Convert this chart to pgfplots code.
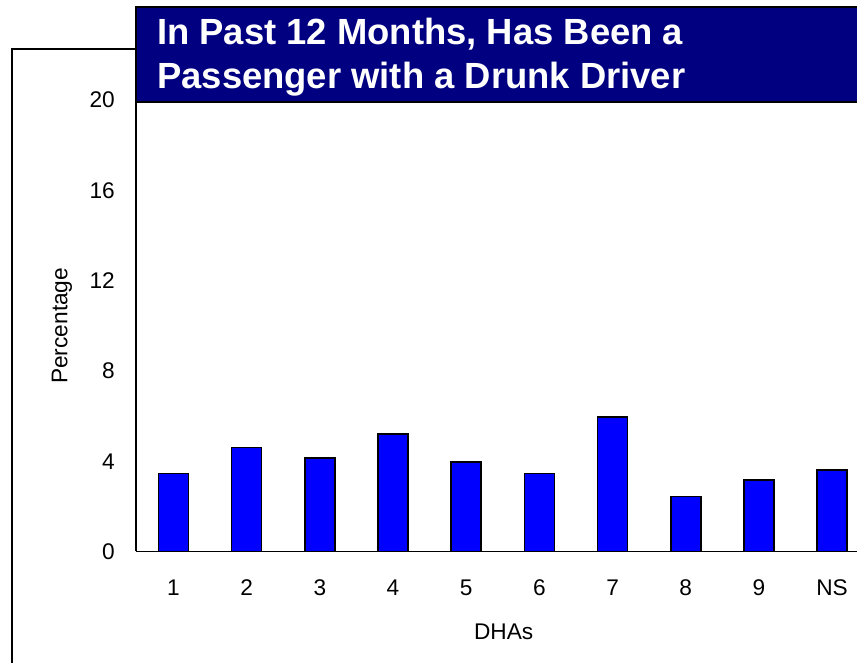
\documentclass[border=0pt]{standalone}
\usepackage{pgfplots}
\pgfplotsset{compat=1.18}
\usepackage{fontspec}
\setmainfont{Liberation Sans}
\definecolor{navytitle}{RGB}{0,0,128}
\definecolor{barblue}{RGB}{0,0,255}
\begin{document}
\begin{tikzpicture}[x=0.75pt,y=0.75pt]
\useasboundingbox (0,0) rectangle (857,663);
\fill[white] (0,0) rectangle (857,663);
\begin{scope}
\clip (0,0) rectangle (857,663);
\draw[line width=1pt] (12,-40) -- (12,614) -- (900,614);
\end{scope}
\begin{axis}[
  at={(102pt,83.625pt)}, anchor=south west,
  scale only axis, width=540.75pt, height=338.6pt,
  xmin=-0.512, xmax=9.34, ymin=0, ymax=20,
  axis lines=left, axis line style={-, line width=1pt},
  clip=false,
  ybar, bar width=0.41,
  ytick={0,4,8,12,16,20},
  xtick={0,1,2,3,4,5,6,7,8,9},
  xticklabels={1,2,3,4,5,6,7,8,9,NS},
  major tick length=0pt,
  /pgf/number format/assume math mode=true,
  tick label style={font=\fontsize{17}{20}\selectfont},
  yticklabel style={inner sep=0pt, anchor=east, xshift=-15.7pt},
  xticklabel style={inner sep=0pt, anchor=center, yshift=-27.4pt},
  ylabel={Percentage},
  ylabel style={at={(axis description cs:-0.1026,0.5)}, anchor=center, font=\fontsize{17}{20}\selectfont},
  xlabel={DHAs},
  xlabel style={at={(axis description cs:0.510,-0.178)}, anchor=center, font=\fontsize{17}{20}\selectfont},
]
\addplot[fill=barblue, draw=black, line width=1.2pt]
  coordinates {(0,3.46) (1,4.6) (2,4.15) (3,5.2) (4,3.97) (5,3.45) (6,5.95) (7,2.44) (8,3.18) (9,3.62)};
\end{axis}
\begin{scope}
\clip (0,0) rectangle (857,663);
\draw[line width=1.5pt, fill=navytitle] (136,656.3) rectangle (870,561.3);
\node[anchor=base west, inner sep=0pt, text=white, font=\fontsize{27.3}{30}\bfseries\selectfont] at (157,618) {In Past 12 Months, Has Been a};
\node[anchor=base west, inner sep=0pt, text=white, font=\fontsize{27.3}{30}\bfseries\selectfont] at (157,574) {Passenger with a Drunk Driver};
\end{scope}
\end{tikzpicture}
\end{document}
